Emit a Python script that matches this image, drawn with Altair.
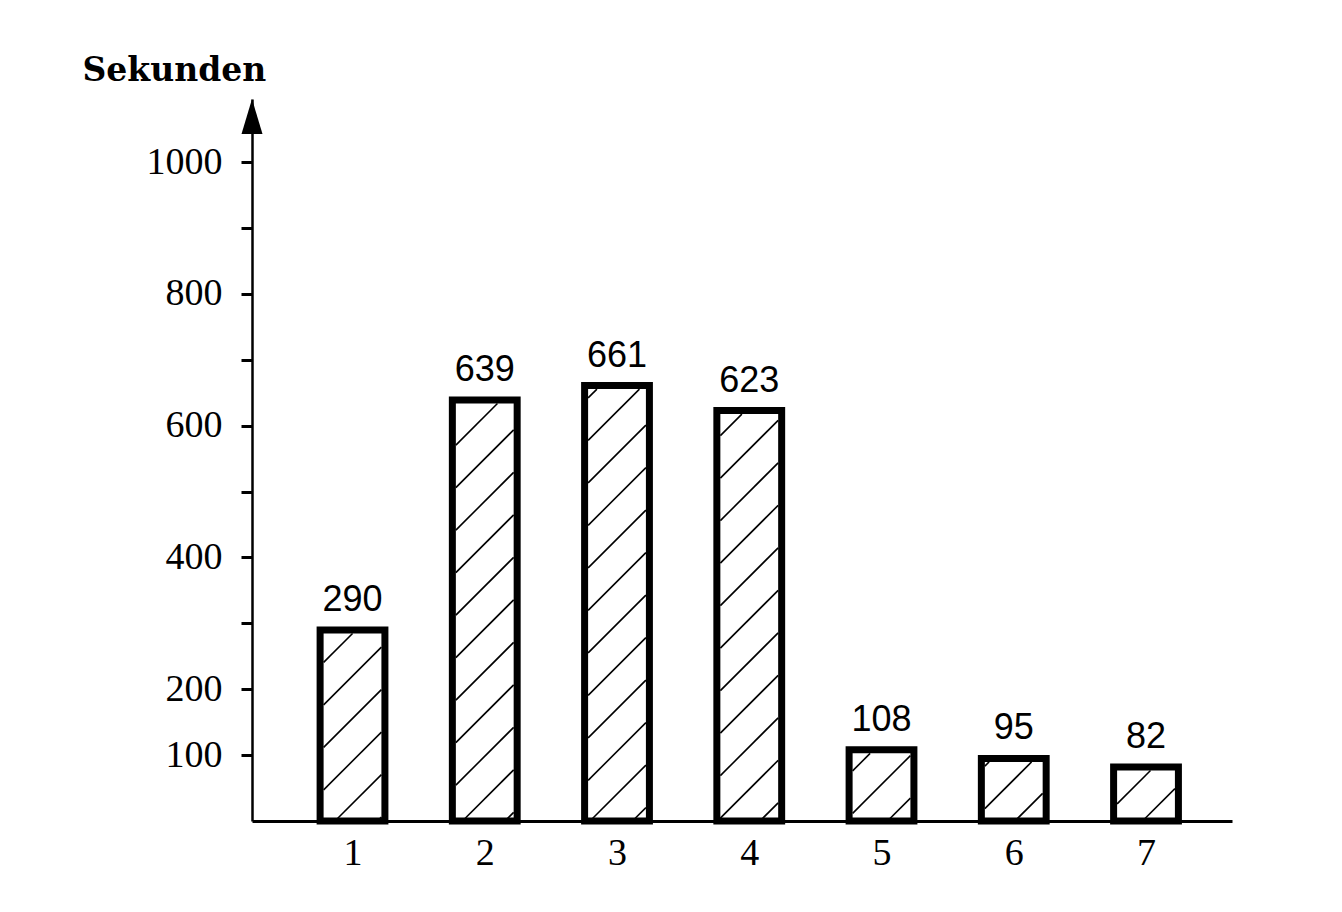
import altair as alt
import pandas as pd
import numpy as np

# ---- data ----
categories = [1, 2, 3, 4, 5, 6, 7]
seconds = [290, 639, 661, 623, 108, 95, 82]
y_tick_values = [100, 200, 300, 400, 500, 600, 700, 800, 900, 1000]
y_label_values = [100, 200, 400, 600, 800, 1000]
y_title = "Sekunden"

# ---- layout / style constants ----
W, H = 980, 722
X0 = 0.24
X1 = X0 + W / 132.25
YMAX = 1096
HALF = 0.245         # half bar width in category units
HATCH = 42.5         # hatch spacing (px, measured vertically)
PHASE = 40
INSET = 3.5

df = pd.DataFrame({"cat": categories, "sec": seconds})
df["left"] = df["cat"] - HALF
df["right"] = df["cat"] + HALF
df["base"] = 0


def px(x):
    return (x - X0) / (X1 - X0) * W


def py(y):
    return H - y / YMAX * H


def dx(p):
    return X0 + p / W * (X1 - X0)


def dy(p):
    return (H - p) / H * YMAX


# diagonal hatching inside each bar, derived from the bar data
rows = []
for c, v in zip(categories, seconds):
    L = px(c - HALF) + INSET
    R = px(c + HALF) - INSET
    T = py(v) + INSET
    B = py(0)
    k0 = int(np.floor((L + T - PHASE) / HATCH))
    k1 = int(np.ceil((R + B - PHASE) / HATCH))
    for k in range(k0, k1 + 1):
        cc = PHASE + k * HATCH
        xa = max(L, cc - B)
        xb = min(R, cc - T)
        if xb - xa > 0.5:
            rows.append({"x": dx(xa), "y": dy(cc - xa), "x2": dx(xb), "y2": dy(cc - xb)})
hatch = pd.DataFrame(rows)

xscale = alt.Scale(domain=[X0, X1], nice=False, zero=False)
yscale = alt.Scale(domain=[0, YMAX], nice=False, zero=True)

label_list = ",".join(str(v) for v in y_label_values)
yaxis = alt.Axis(
    values=y_tick_values, format="d",
    labelExpr=f"indexof([{label_list}], datum.value) >= 0 ? datum.label : ''",
    tickSize=11, tickWidth=3, tickColor="black",
    domainColor="black", domainWidth=2.5,
    labelFont="Liberation Serif", labelFontSize=38, labelColor="black",
    labelPadding=19, labelOverlap=False, grid=False,
    title=y_title, titleAngle=0, titleX=-170, titleY=-19,
    titleAlign="left", titleBaseline="alphabetic",
    titleFont="DejaVu Serif",
    titleFontSize=33, titleFontWeight="bold",
    titleColor="black",
)
xaxis = alt.Axis(
    values=categories, format="d", ticks=False,
    domainColor="black", domainWidth=3,
    labelFont="Liberation Serif", labelFontSize=38, labelColor="black",
    labelPadding=13, grid=False, title=None,
)

base = alt.Chart(df)

fill = base.mark_rect(fill="white", strokeWidth=0).encode(
    x=alt.X("left:Q", scale=xscale, axis=xaxis),
    x2="right:Q",
    y=alt.Y("base:Q", scale=yscale, axis=yaxis),
    y2="sec:Q",
)

hatch_layer = alt.Chart(hatch).mark_rule(color="black", strokeWidth=1.6).encode(
    x=alt.X("x:Q", scale=xscale),
    x2="x2:Q",
    y=alt.Y("y:Q", scale=yscale),
    y2="y2:Q",
)

outline = base.mark_rect(fillOpacity=0, stroke="black", strokeWidth=7).encode(
    x=alt.X("left:Q", scale=xscale),
    x2="right:Q",
    y=alt.Y("base:Q", scale=yscale),
    y2="sec:Q",
)

labels = base.mark_text(
    font="Liberation Sans", fontSize=36, color="black", baseline="bottom", dy=-11
).encode(
    x=alt.X("cat:Q", scale=xscale),
    y=alt.Y("sec:Q", scale=yscale),
    text=alt.Text("sec:Q", format="d"),
)

arrow = alt.Chart(pd.DataFrame({"a": [0]})).transform_calculate(
    ax=str(X0), ay=str(YMAX)
).mark_point(
    shape="M0,0 L0.6,2 L-0.6,2 Z", filled=True, color="black", opacity=1, size=1225
).encode(
    x=alt.X("ax:Q", scale=xscale),
    y=alt.Y("ay:Q", scale=yscale),
)

chart = alt.layer(fill, hatch_layer, outline, labels, arrow).properties(
    width=W, height=H,
    autosize=alt.AutoSizeParams(type="none"),
    padding={"left": 244, "top": 91, "right": 100, "bottom": 80},
    background="white",
).configure_view(stroke=None)

chart.save("out.html", embed_options={"renderer": "svg", "actions": False})
